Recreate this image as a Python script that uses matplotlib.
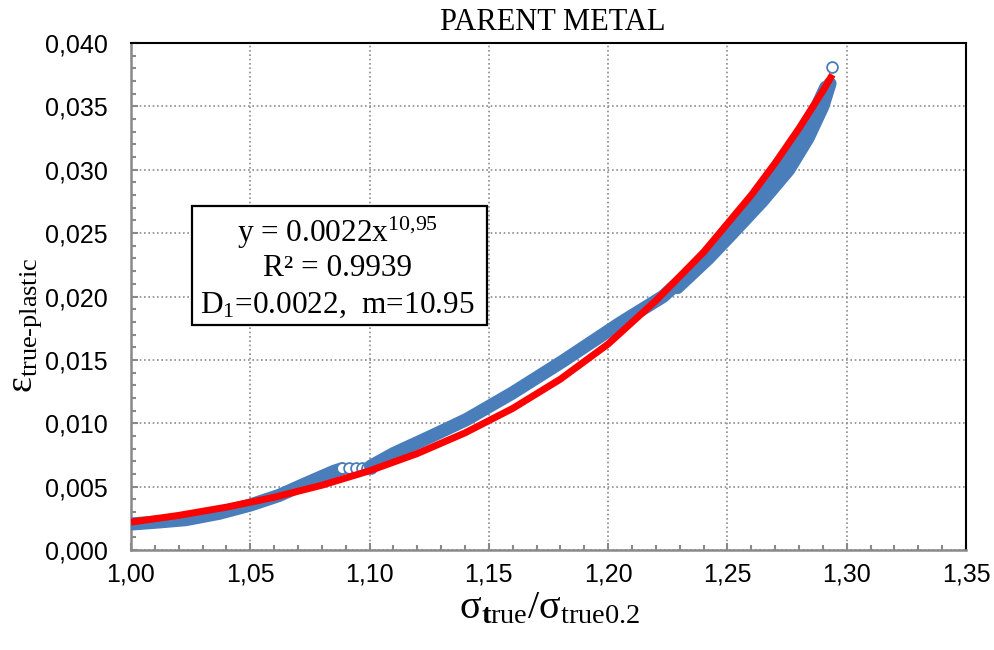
import matplotlib; matplotlib.use("Agg")
import matplotlib.pyplot as plt
from matplotlib.ticker import MultipleLocator, FuncFormatter
from matplotlib.patches import Rectangle

plt.rcParams.update({"font.family": "Liberation Sans", "mathtext.fontset": "custom",
                     "mathtext.rm": "Liberation Serif", "mathtext.it": "Liberation Serif:italic",
                     "mathtext.bf": "Liberation Serif:bold"})

x_pre = [1.000, 1.012, 1.023, 1.037, 1.050, 1.062, 1.074, 1.085, 1.0883]
y_pre = [0.00205, 0.00222, 0.0024, 0.0029, 0.00355, 0.0043, 0.0053, 0.0062, 0.0064]
x_plat = [1.0883, 1.0914, 1.0943, 1.0967, 1.0988, 1.1004]
y_plat = [0.0065, 0.0065, 0.0065, 0.0065, 0.0065, 0.0065]
x_post = [1.1004, 1.110, 1.125, 1.1407, 1.160, 1.181, 1.205, 1.223, 1.2375, 1.2500,
          1.2605, 1.2711, 1.2795, 1.2875, 1.2912, 1.2937]
y_post = [0.0066, 0.0076, 0.0089, 0.0103, 0.0124, 0.0149, 0.0179, 0.0200, 0.0225, 0.0250,
          0.0275, 0.0300, 0.0325, 0.0350, 0.0365, 0.0381]
# outer edge of the band near the top
x_outer = [1.2290, 1.2420, 1.2521, 1.2645, 1.2757, 1.2838, 1.2900, 1.2930]
y_outer = [0.0207, 0.0230, 0.0250, 0.0275, 0.0300, 0.0325, 0.0350, 0.0368]

# power trendline (red)
x_fit = [1.00, 1.02, 1.04, 1.06, 1.08, 1.10, 1.12, 1.14, 1.16, 1.18, 1.20, 1.22, 1.24,
         1.26, 1.27, 1.28, 1.29, 1.294]
y_fit = [0.00220, 0.00273, 0.00338, 0.00416, 0.00511, 0.00625, 0.00761, 0.00924, 0.01117,
         0.01348, 0.01625, 0.01967, 0.02350, 0.02800, 0.03053, 0.03326, 0.03622, 0.03750]

BLUE = "#4A7EBB"; GREY = "#898989"
W, H = 995, 650
fig = plt.figure(figsize=(W/100, H/100), dpi=100)
ax = fig.add_axes([131/W, 1-550/H, 835/W, 507/H])

band = dict(color=BLUE, lw=9.5, solid_capstyle="round", solid_joinstyle="round", zorder=3)
ax.plot(x_pre, y_pre, **band)
for xx, yy in zip(x_plat, y_plat):
    ax.plot([xx], [yy], "o", ms=7.8, mfc="white", mec=BLUE, mew=1.3, zorder=3)
ax.plot(x_outer, y_outer, **band)
ax.plot(x_post[:-1], y_post[:-1], **band)
ax.plot(x_post[-1:], y_post[-1:], "o", ms=7.8, mfc="white", mec=BLUE, mew=1.3, zorder=3)
ax.plot(x_fit, y_fit, color="#FF0000", lw=5, solid_capstyle="butt", solid_joinstyle="round", zorder=4)

ax.set_xlim(1.00, 1.35); ax.set_ylim(0, 0.040)
ax.xaxis.set_major_locator(MultipleLocator(0.05)); ax.xaxis.set_minor_locator(MultipleLocator(0.01))
ax.yaxis.set_major_locator(MultipleLocator(0.005)); ax.yaxis.set_minor_locator(MultipleLocator(0.001))
ax.xaxis.set_major_formatter(FuncFormatter(lambda v, p: f"{v:.2f}".replace(".", ",")))
ax.yaxis.set_major_formatter(FuncFormatter(lambda v, p: f"{v:.3f}".replace(".", ",")))
ax.tick_params(which="both", direction="in", color=GREY, width=1.5, labelsize=18)
ax.tick_params(which="major", length=5)
ax.tick_params(which="minor", length=3.3)
ax.tick_params(axis="y", pad=17); ax.tick_params(axis="x", pad=9)
ax.grid(True, which="major", color="#8c8c8c", lw=1.2, ls=(0, (1, 1.6)))
ax.set_axisbelow(True)
for s in ["left", "bottom"]:
    ax.spines[s].set_color(GREY); ax.spines[s].set_linewidth(1.8)
for s in ["top", "right"]:
    ax.spines[s].set_color("black"); ax.spines[s].set_linewidth(1.5)

fig.text(552.5/W, 1-30/H, "PARENT METAL", family="Liberation Serif", fontsize=22, ha="center", va="baseline")
fig.text(550/W, 1-618/H, r"$\mathrm{\sigma}_{\mathbf{t}\mathrm{rue}}/\mathrm{\sigma}_{\mathrm{true0.2}}$",
         fontsize=29, ha="center", va="baseline")
fig.text(26/W, 1-325/H, r"$\mathrm{\varepsilon}_{\mathrm{true\text{-}plastic}}$",
         fontsize=27, rotation=90, ha="center", va="center")

# equation box
fig.add_artist(Rectangle((192/W, 1-325/H), 295/W, 119/H, transform=fig.transFigure,
                         facecolor="white", edgecolor="black", lw=1.6, zorder=5))
for txt, yb in [(r"y = 0.0022x$^{10{,}95}$", 241.7), ("R² = 0.9939", 276),
                (r"D$_1$=0.0022,  m=10.95", 313)]:
    fig.text(337.5/W, 1-yb/H, txt, family="Liberation Serif", fontsize=22.5,
             ha="center", va="baseline", zorder=6)

fig.savefig("out.png", dpi=100)
